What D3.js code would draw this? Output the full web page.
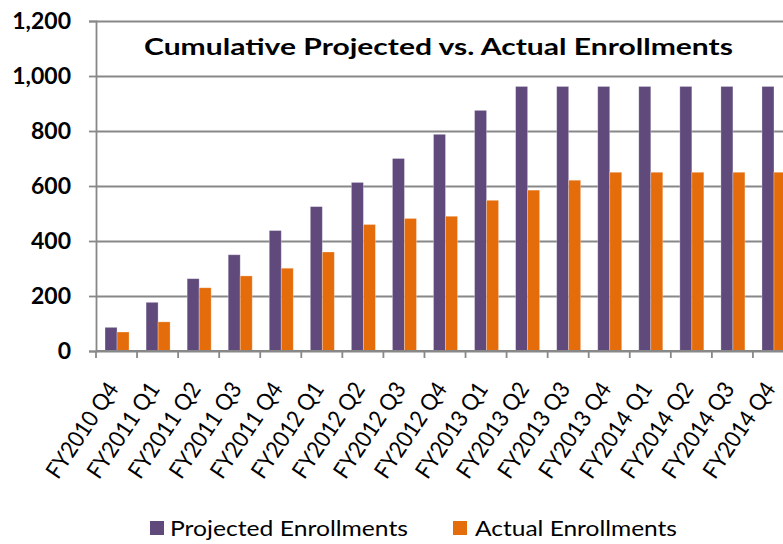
<!DOCTYPE html>
<html>
<head>
<meta charset="utf-8">
<script src="https://cdn.jsdelivr.net/npm/d3@7/dist/d3.min.js"></script>
<style>
  html, body { margin: 0; padding: 0; background: #fff; }
  svg { display: block; font-family: Lato, "Open Sans", sans-serif; }
</style>
</head>
<body>
<svg id="chart" width="783" height="544"></svg>
<script>
// Quarters on the x axis
var quarters = [
  'FY2010 Q4',
  'FY2011 Q1', 'FY2011 Q2', 'FY2011 Q3', 'FY2011 Q4',
  'FY2012 Q1', 'FY2012 Q2', 'FY2012 Q3', 'FY2012 Q4',
  'FY2013 Q1', 'FY2013 Q2', 'FY2013 Q3', 'FY2013 Q4',
  'FY2014 Q1', 'FY2014 Q2', 'FY2014 Q3', 'FY2014 Q4'
];
// Cumulative enrollments
var projected = [86, 177, 263, 350, 438, 525, 613, 700, 788, 875, 962, 962, 962, 962, 962, 962, 962];
var actual    = [69, 106, 230, 273, 301, 360, 460, 482, 490, 548, 585, 621, 650, 650, 650, 650, 650];
var seriesNames = ['Projected Enrollments', 'Actual Enrollments'];
var seriesColors = ['#604A7B', '#E46C0A'];
var yTicks = [0, 200, 400, 600, 800, 1000, 1200];

(function () {
  'use strict';

  var svg = d3.select('#chart');
  var left = 96, right = 794, top = 21, bottom = 351; // plot runs past the right edge, as in the source

  var x = d3.scaleBand().domain(quarters).range([left, right]).padding(0);
  var groupW = 24;
  var x1 = d3.scaleBand().domain(seriesNames)
    .range([(x.bandwidth() - groupW) / 2 + 0.5, (x.bandwidth() + groupW) / 2 + 0.5]);
  var y = d3.scaleLinear().domain([0, 1200]).range([bottom, top]);
  var grid = '#888888';

  // Gridlines + y axis
  var yAxis = d3.axisLeft(y).tickValues(yTicks).tickSize(7).tickFormat('');
  var gy = svg.append('g').attr('transform', 'translate(' + left + ',0)').call(yAxis);
  gy.select('.domain').attr('stroke', grid).attr('stroke-width', 1.8);
  gy.selectAll('.tick line').attr('stroke', grid).attr('stroke-width', 1.8);
  gy.selectAll('.tick').append('line')
    .attr('x1', 0).attr('x2', 783 - left)
    .attr('stroke', grid).attr('stroke-width', 1.8);

  // Y tick labels
  svg.append('g').selectAll('text').data(yTicks).join('text')
    .attr('x', 71).attr('y', function (d) { return y(d); })
    .attr('dy', '0.36em')
    .attr('text-anchor', 'end')
    .style('font-size', '23px').style('font-weight', 700).attr('fill', '#000')
    .text(d3.format(','));

  // Bars
  var rows = quarters.map(function (q, i) {
    return { q: q, vals: [projected[i], actual[i]] };
  });
  var groups = svg.append('g').selectAll('g').data(rows).join('g')
    .attr('transform', function (d) { return 'translate(' + x(d.q) + ',0)'; });
  groups.selectAll('rect').data(function (d) {
    return d.vals.map(function (v, j) { return { s: seriesNames[j], v: v, c: seriesColors[j] }; });
  }).join('rect')
    .attr('x', function (d) { return x1(d.s); })
    .attr('width', x1.bandwidth())
    .attr('y', function (d) { return y(d.v); })
    .attr('height', function (d) { return bottom - y(d.v); })
    .attr('fill', function (d) { return d.c; })
    .attr('stroke', 'rgba(255,255,255,0.35)').attr('stroke-width', 0.8);

  // X axis with ticks at category boundaries
  var bounds = quarters.map(function (q) { return x(q); }).concat([right]);
  svg.append('line').attr('x1', left).attr('x2', 783).attr('y1', bottom).attr('y2', bottom)
    .attr('stroke', grid).attr('stroke-width', 1.8);
  svg.append('g').selectAll('line').data(bounds).join('line')
    .attr('x1', function (d) { return d; }).attr('x2', function (d) { return d; })
    .attr('y1', bottom).attr('y2', bottom + 7)
    .attr('stroke', grid).attr('stroke-width', 1.8);

  // Rotated category labels (baseline end sits just right of the category centre)
  svg.append('g').selectAll('text').data(quarters).join('text')
    .attr('transform', function (q) {
      return 'translate(' + (x(q) + x.bandwidth() / 2 + 3) + ',' + 389 + ') rotate(-56)';
    })
    .attr('text-anchor', 'end')
    .attr('textLength', 110).attr('lengthAdjust', 'spacingAndGlyphs')
    .style('font-size', '23px').attr('fill', '#000')
    .text(function (q) { return q; });

  // Title
  svg.append('text')
    .attr('x', 144).attr('y', 54.5)
    .attr('textLength', 589).attr('lengthAdjust', 'spacingAndGlyphs')
    .style('font-size', '23px').style('font-weight', 700).attr('fill', '#000')
    .text('Cumulative Projected vs. Actual  Enrollments');

  // Legend
  var legend = [
    { name: seriesNames[0], color: seriesColors[0], sx: 150, tx: 170, w: 238 },
    { name: seriesNames[1], color: seriesColors[1], sx: 453, tx: 475, w: 202 }
  ];
  var lg = svg.append('g').selectAll('g').data(legend).join('g');
  lg.append('rect')
    .attr('x', function (d) { return d.sx; }).attr('y', 521)
    .attr('width', 14).attr('height', 14)
    .attr('fill', function (d) { return d.color; });
  lg.append('text')
    .attr('x', function (d) { return d.tx; }).attr('y', 536)
    .attr('textLength', function (d) { return d.w; }).attr('lengthAdjust', 'spacingAndGlyphs')
    .style('font-size', '22px').attr('fill', '#000')
    .text(function (d) { return d.name; });
})();
</script>
</body>
</html>
